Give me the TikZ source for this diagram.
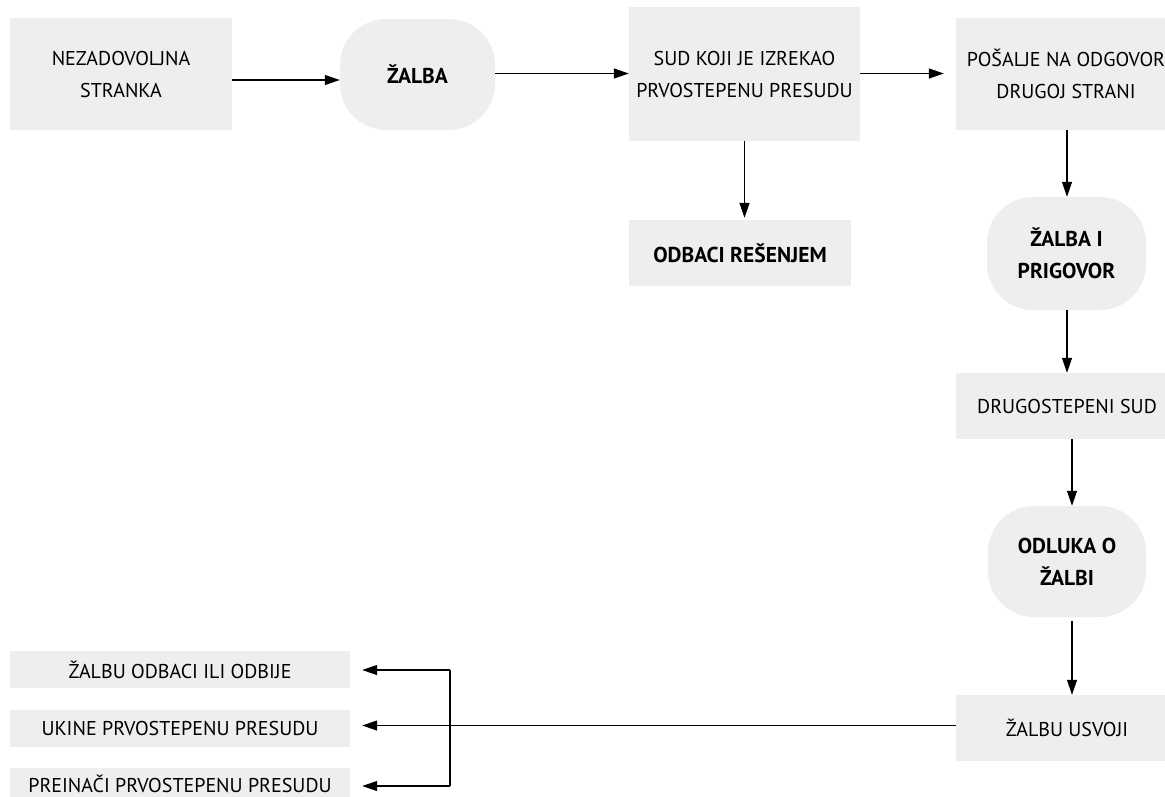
\documentclass[tikz,border=0pt]{standalone}
\usepackage{fontspec}
\setmainfont{PT Sans}
\usetikzlibrary{arrows.meta}
\definecolor{boxgray}{HTML}{EEEEEE}
\begin{document}
\begin{tikzpicture}[x=1pt,y=-1pt,
  font=\fontsize{20}{32}\selectfont,
  stepbox/.style={fill=boxgray,draw=none,inner sep=0pt,align=center},
  boldtext/.style={font=\fontsize{21.5}{32}\selectfont\bfseries},
  roundbox/.style={stepbox,rounded corners=46pt,boldtext},
  arr/.style={line width=1.2pt,-{Triangle[length=15pt,width=10pt]}},
  ln/.style={line width=1.2pt}]
\clip (0,0) rectangle (1165,796);
% first row
\node[stepbox, minimum width=222, minimum height=112] (nez) at (121,74) {NEZADOVOLJNA\\STRANKA};
\node[roundbox, minimum width=155, minimum height=111] (zal) at (417.5,74.5) {ŽALBA};
\node[stepbox, minimum width=231, minimum height=134] (sud) at (744.5,74) {SUD KOJI JE IZREKAO\\PRVOSTEPENU PRESUDU};
\node[stepbox, minimum width=220, minimum height=112] (pos) at (1066,74) {POŠALJE NA ODGOVOR\\DRUGOJ STRANI};
\node[stepbox, boldtext, minimum width=222, minimum height=66] (odb) at (740,253) {ODBACI REŠENJEM};
% right column
\node[roundbox, minimum width=159, minimum height=113] (pri) at (1066.5,253.5) {ŽALBA I\\PRIGOVOR};
\node[stepbox, minimum width=222, minimum height=66] (drg) at (1067,406) {DRUGOSTEPENI SUD};
\node[roundbox, minimum width=158, minimum height=111] (odl) at (1067,561.5) {ODLUKA O\\ŽALBI};
\node[stepbox, minimum width=222, minimum height=66] (usv) at (1067,728) {ŽALBU USVOJI};
% outcomes
\node[stepbox, minimum width=340, minimum height=37] (o1) at (180,669.5) {ŽALBU ODBACI ILI ODBIJE};
\node[stepbox, minimum width=340, minimum height=37] (o2) at (180,728.5) {UKINE PRVOSTEPENU PRESUDU};
\node[stepbox, minimum width=340, minimum height=37] (o3) at (180,786.5) {};
\node[anchor=base, inner sep=0pt] (o3t) at (180,792) {PREINAČI PRVOSTEPENU PRESUDU};
% connectors
\draw[arr] (nez.east |- 0,80) -- (zal.west |- 0,80);
\draw[arr] (zal.east |- 0,73.5) -- (sud.west |- 0,73.5);
\draw[arr, shorten >=12pt] (sud.east |- 0,73.5) -- (pos.west |- 0,73.5);
\draw[arr, shorten >=2pt] (sud.south) -- (sud.south |- odb.north);
\draw[arr] (pos.south -| 1067,0) -- (pri.north -| 1067,0);
\draw[arr] (pri.south -| 1067,0) -- (drg.north -| 1067,0);
\draw[arr] (drg.south -| 1072,0) -- (odl.north -| 1072,0);
\draw[arr, shorten <=4pt] (odl.south -| 1072,0) -- (usv.north -| 1072,0);
\coordinate (split) at (450,725.5);
\draw[arr, shorten >=12pt] (usv.west |- split) -- (o2.east |- split);
\draw[ln] (450,670) -- (450,786);
\draw[arr, shorten >=12pt] (450,670) -- (o1.east |- 0,670);
\draw[arr, shorten >=12pt] (450,786) -- (o3.east |- 0,786);
\end{tikzpicture}
\end{document}
